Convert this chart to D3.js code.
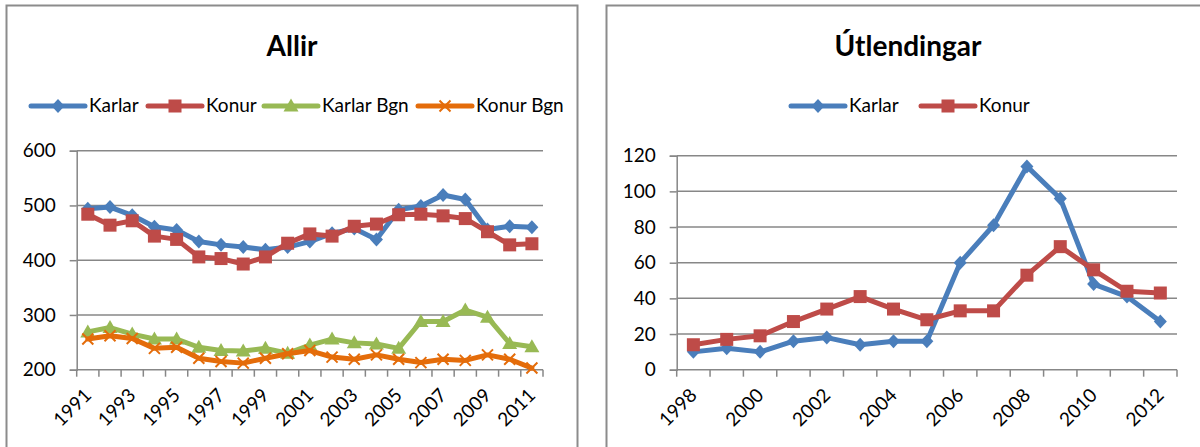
<!DOCTYPE html>
<html>
<head>
<meta charset="utf-8">
<script src="https://cdn.jsdelivr.net/npm/d3@7"></script>
<style>
  body { margin: 0; background: #fff; }
  svg { display: block; font-family: Lato, "Open Sans", sans-serif; }
</style>
</head>
<body>
<div id="chart"></div>
<script>
// Allir
const allirYears = d3.range(1991, 2012).map(String);
const allirKarlar = [494, 497, 482, 461, 455, 434, 428, 424, 419, 424, 434, 449, 458, 438, 492, 499, 519, 511, 456, 462, 460];
const allirKonur = [484, 464, 472, 444, 438, 406, 403, 393, 406, 431, 448, 444, 462, 466, 483, 484, 481, 476, 452, 428, 430];
const allirKarlarBgn = [269, 277, 265, 256, 256, 241, 235, 234, 239, 230, 245, 256, 249, 247, 239, 288, 288, 309, 296, 248, 242];
const allirKonurBgn = [256, 262, 257, 239, 241, 221, 215, 212, 221, 229, 235, 223, 219, 227, 219, 213, 219, 217, 227, 219, 203];
const allirTicks = [200, 300, 400, 500, 600];

// Útlendingar
const utlYears = d3.range(1998, 2013).map(String);
const utlKarlar = [10, 12, 10, 16, 18, 14, 16, 16, 60, 81, 114, 96, 48, 41, 27];
const utlKonur = [14, 17, 19, 27, 34, 41, 34, 28, 33, 33, 53, 69, 56, 44, 43];
const utlTicks = [0, 20, 40, 60, 80, 100, 120];

const colors = { blue: "#4a7ebb", red: "#be4b48", green: "#98b954", orange: "#e46c0a" };
const gridColor = "#878787";

const svg = d3.select("#chart").append("svg")
  .attr("width", 1200)
  .attr("height", 447);

// chart frames
svg.append("rect").attr("x", 6.5).attr("y", 5.5).attr("width", 571).attr("height", 460)
  .attr("fill", "none").attr("stroke", "#8c8c8c").attr("stroke-width", 2);
svg.append("rect").attr("x", 606.5).attr("y", 5.5).attr("width", 620).attr("height", 460)
  .attr("fill", "none").attr("stroke", "#8c8c8c").attr("stroke-width", 2);

function marker(g, type, x, y, color) {
  if (type === "diamond") {
    g.append("path").attr("d", `M${x},${y - 7}L${x + 6.5},${y}L${x},${y + 7}L${x - 6.5},${y}Z`).attr("fill", color);
  } else if (type === "square") {
    g.append("rect").attr("x", x - 6.5).attr("y", y - 6.5).attr("width", 13).attr("height", 13).attr("fill", color);
  } else if (type === "triangle") {
    g.append("path").attr("d", `M${x},${y - 7.5}L${x + 7.5},${y + 5.5}L${x - 7.5},${y + 5.5}Z`).attr("fill", color);
  } else if (type === "x") {
    g.append("path").attr("d", `M${x - 5.5},${y - 5.5}L${x + 5.5},${y + 5.5}M${x - 5.5},${y + 5.5}L${x + 5.5},${y - 5.5}`)
      .attr("stroke", color).attr("stroke-width", 2).attr("fill", "none");
  }
}

function drawChart(opts) {
  const g = svg.append("g");

  const x = d3.scaleBand().domain(opts.years).range([opts.left, opts.right]).padding(0);
  const y = d3.scaleLinear().domain(d3.extent(opts.ticks)).range([opts.bottom, opts.top]);

  // title
  g.append("text")
    .attr("x", opts.titleX).attr("y", 56)
    .attr("text-anchor", "middle")
    .attr("font-size", 28).attr("font-weight", "bold")
    .text(opts.title);

  // gridlines
  g.selectAll("line.grid").data(opts.ticks.slice(1)).enter().append("line")
    .attr("x1", opts.left).attr("x2", opts.right)
    .attr("y1", d => y(d)).attr("y2", d => y(d))
    .attr("stroke", gridColor).attr("stroke-width", 1.5);

  // y axis
  const yAxis = g.append("g")
    .attr("transform", `translate(${opts.left},0)`)
    .call(d3.axisLeft(y).tickValues(opts.ticks).tickSize(7).tickPadding(14));
  yAxis.select(".domain").attr("stroke", gridColor).attr("stroke-width", 1.5);
  yAxis.selectAll(".tick line").attr("stroke", gridColor).attr("stroke-width", 1.5);
  yAxis.selectAll("text").attr("font-size", 19).attr("fill", "#000").attr("font-family", "Lato, sans-serif");

  // x axis: tick marks at category boundaries
  const bounds = opts.years.map(d => x(d)).concat([opts.right]);
  g.append("line")
    .attr("x1", opts.left).attr("x2", opts.right)
    .attr("y1", opts.bottom).attr("y2", opts.bottom)
    .attr("stroke", gridColor).attr("stroke-width", 1.5);
  g.selectAll("line.xtick").data(bounds).enter().append("line")
    .attr("x1", d => d).attr("x2", d => d)
    .attr("y1", opts.bottom).attr("y2", opts.bottom + 7)
    .attr("stroke", gridColor).attr("stroke-width", 1.5);

  g.selectAll("text.xlab").data(opts.years.filter((d, i) => i % 2 === 0)).enter().append("text")
    .attr("transform", d => `translate(${x(d) + x.bandwidth() / 2},${opts.bottom + 22}) rotate(-45)`)
    .attr("text-anchor", "end")
    .attr("dy", "0.35em")
    .attr("font-size", 19)
    .text(d => d);

  // series
  const line = d3.line()
    .x((d, i) => x(opts.years[i]) + x.bandwidth() / 2)
    .y(d => y(d));

  opts.series.forEach(s => {
    g.append("path").datum(s.values)
      .attr("d", line)
      .attr("fill", "none")
      .attr("stroke", s.color)
      .attr("stroke-width", 5)
      .attr("stroke-linejoin", "round")
      .attr("stroke-linecap", "round");
    s.values.forEach((v, i) => {
      marker(g, s.marker, x(opts.years[i]) + x.bandwidth() / 2, y(v), s.color);
    });
  });

  // legend
  opts.series.forEach((s, i) => {
    const lx = opts.legendX[i];
    g.append("line")
      .attr("x1", lx).attr("x2", lx + 54)
      .attr("y1", 106).attr("y2", 106)
      .attr("stroke", s.color).attr("stroke-width", 5)
      .attr("stroke-linecap", "round");
    marker(g, s.marker, lx + 27, 106, s.color);
    g.append("text")
      .attr("x", lx + 58).attr("y", 112)
      .attr("font-size", 19)
      .text(s.name);
  });
}

drawChart({
  title: "Allir", titleX: 292,
  years: allirYears, ticks: allirTicks,
  left: 76.7, right: 543, top: 150.7, bottom: 369.7,
  legendX: [31, 148, 264, 418],
  series: [
    { name: "Karlar", values: allirKarlar, color: colors.blue, marker: "diamond" },
    { name: "Konur", values: allirKonur, color: colors.red, marker: "square" },
    { name: "Karlar Bgn", values: allirKarlarBgn, color: colors.green, marker: "triangle" },
    { name: "Konur Bgn", values: allirKonurBgn, color: colors.orange, marker: "x" }
  ]
});

drawChart({
  title: "Útlendingar", titleX: 908,
  years: utlYears, ticks: utlTicks,
  left: 676.7, right: 1177, top: 155.7, bottom: 369.7,
  legendX: [791, 921],
  series: [
    { name: "Karlar", values: utlKarlar, color: colors.blue, marker: "diamond" },
    { name: "Konur", values: utlKonur, color: colors.red, marker: "square" }
  ]
});
</script>
</body>
</html>
